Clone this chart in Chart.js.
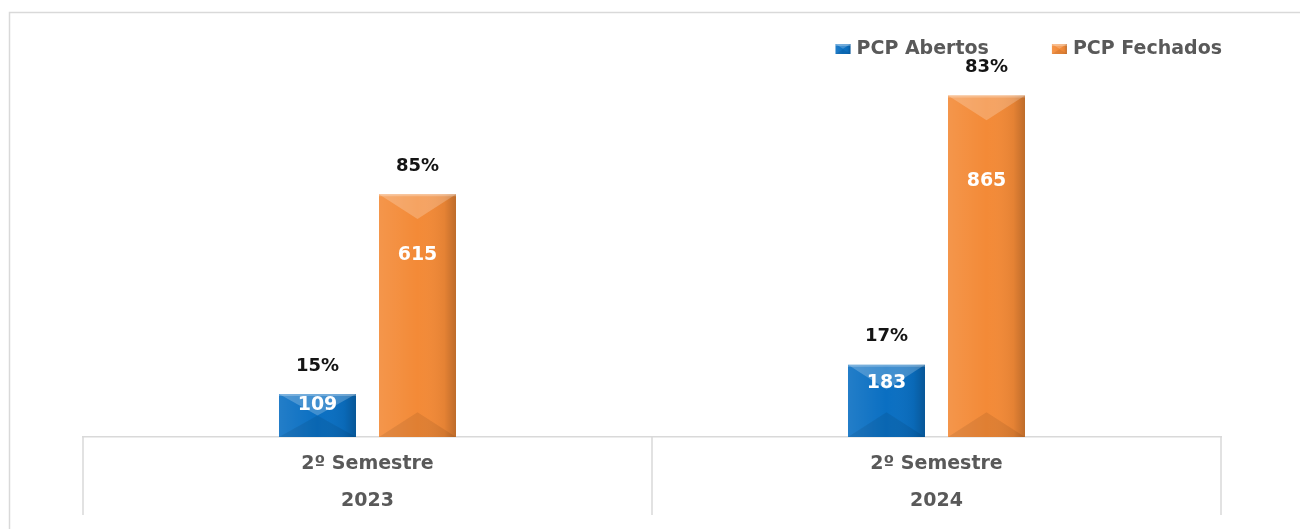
<!DOCTYPE html>
<html><head><meta charset="utf-8">
<script src="https://cdn.jsdelivr.net/npm/chart.js@4.4.0/dist/chart.umd.min.js"></script>
<style>html,body{margin:0;padding:0;background:#fff;overflow:hidden}#c{display:block}</style>
</head><body>
<canvas id="c" width="1300" height="529"></canvas>
<script>
// ---- data ----
const categories = [['2º Semestre', '2023'], ['2º Semestre', '2024']];
const seriesNames = ['PCP Abertos', 'PCP Fechados'];
const abertos = [109, 183];
const fechados = [615, 865];
const pctAbertos = ['15%', '17%'];
const pctFechados = ['85%', '83%'];

// ---- styles ----
const FONT = '"DejaVu Sans", sans-serif';
const colors = ['#0a6fc2', '#f38a37'];
const pctLabels = [pctAbertos, pctFechados];

function drawBevelBar(ctx, left, right, top, bottom) {
  const w = right - left, h = bottom - top, cx = (left + right) / 2;
  const g = ctx.createLinearGradient(left, 0, right, 0);
  g.addColorStop(0, 'rgba(255,255,255,0.10)');
  g.addColorStop(0.5, 'rgba(255,255,255,0)');
  g.addColorStop(0.85, 'rgba(0,0,0,0.06)');
  g.addColorStop(1, 'rgba(0,0,0,0.22)');
  ctx.fillStyle = g;
  ctx.fillRect(left, top, w, h);
  const d = Math.min(w * 0.32, h / 2);
  ctx.beginPath();
  ctx.moveTo(left, top); ctx.lineTo(right, top); ctx.lineTo(cx, top + d); ctx.closePath();
  ctx.fillStyle = 'rgba(255,255,255,0.22)';
  ctx.fill();
  ctx.fillStyle = 'rgba(255,255,255,0.25)';
  ctx.fillRect(left, top, w, Math.min(2, h));
  ctx.beginPath();
  ctx.moveTo(left, bottom); ctx.lineTo(right, bottom); ctx.lineTo(cx, bottom - d); ctx.closePath();
  ctx.fillStyle = 'rgba(0,0,0,0.08)';
  ctx.fill();
}

const framePlugin = {
  id: 'frame',
  beforeDraw(chart) {
    const ctx = chart.ctx;
    ctx.save();
    ctx.fillStyle = '#ffffff';
    ctx.fillRect(0, 0, chart.width, chart.height);
    ctx.strokeStyle = '#d9d9d9';
    ctx.lineWidth = 1.5;
    ctx.beginPath();
    ctx.moveTo(9.5, chart.height);
    ctx.lineTo(9.5, 12.5);
    ctx.lineTo(chart.width + 2, 12.5);
    ctx.stroke();
    ctx.restore();
  },
  afterDraw(chart) {
    const xs = chart.scales.x, ctx = chart.ctx;
    const n = chart.data.labels.length;
    const bounds = [xs.left];
    for (let i = 0; i < n - 1; i++) bounds.push((xs.getPixelForTick(i) + xs.getPixelForTick(i + 1)) / 2);
    bounds.push(xs.right);
    ctx.save();
    ctx.strokeStyle = '#d9d9d9';
    ctx.lineWidth = 1.5;
    bounds.forEach(b => {
      ctx.beginPath();
      ctx.moveTo(b, xs.top);
      ctx.lineTo(b, xs.top + 78);
      ctx.stroke();
    });
    ctx.restore();
  }
};

const barDecor = {
  id: 'barDecor',
  afterDatasetsDraw(chart) {
    const ctx = chart.ctx;
    ctx.save();
    chart.data.datasets.forEach((ds, di) => {
      const meta = chart.getDatasetMeta(di);
      meta.data.forEach((el, i) => {
        const left = el.x - el.width / 2, right = el.x + el.width / 2;
        const top = Math.min(el.y, el.base), bottom = Math.max(el.y, el.base);
        drawBevelBar(ctx, left, right, top, bottom);
        const h = bottom - top;
        ctx.font = 'bold 19px ' + FONT;
        ctx.fillStyle = '#ffffff';
        ctx.textAlign = 'center';
        ctx.textBaseline = 'middle';
        ctx.fillText(String(ds.data[i]), el.x, top + h * 0.25);
        ctx.font = 'bold 18px ' + FONT;
        ctx.fillStyle = '#141414';
        ctx.fillText(pctLabels[di][i], el.x, top - 28);
      });
    });
    ctx.restore();
  }
};

const legendPlugin = {
  id: 'customLegend',
  afterDraw(chart) {
    const ctx = chart.ctx;
    ctx.save();
    ctx.font = 'bold 19px ' + FONT;
    ctx.textBaseline = 'middle';
    ctx.textAlign = 'left';
    const yc = 49, boxW = 15, boxH = 10, gapBox = 6, gapItem = 63;
    let xEnd = chart.chartArea.right + 1;
    for (let i = seriesNames.length - 1; i >= 0; i--) {
      const tw = ctx.measureText(seriesNames[i]).width;
      const tx = xEnd - tw;
      const bx = tx - gapBox - boxW;
      ctx.fillStyle = colors[i];
      ctx.fillRect(bx, yc - boxH / 2, boxW, boxH);
      drawBevelBar(ctx, bx, bx + boxW, yc - boxH / 2, yc + boxH / 2);
      ctx.fillStyle = '#595959';
      ctx.fillText(seriesNames[i], tx, yc);
      xEnd = bx - gapItem;
    }
    ctx.restore();
  }
};

new Chart(document.getElementById('c'), {
  type: 'bar',
  data: {
    labels: categories,
    datasets: [
      { label: seriesNames[0], data: abertos, backgroundColor: colors[0] },
      { label: seriesNames[1], data: fechados, backgroundColor: colors[1] }
    ]
  },
  options: {
    responsive: false,
    animation: false,
    layout: { padding: { left: 83, right: 79, top: 62, bottom: 0 } },
    datasets: { bar: { categoryPercentage: 0.3515, barPercentage: 0.77, borderWidth: 0 } },
    plugins: { legend: { display: false }, tooltip: { enabled: false } },
    scales: {
      x: {
        grid: { display: false, drawTicks: false },
        border: { display: true, color: '#d9d9d9', width: 1.5 },
        ticks: {
          font: { family: FONT, size: 19, weight: 'bold', lineHeight: '37px' },
          color: '#595959', padding: 9, maxRotation: 0, autoSkip: false
        }
      },
      y: { display: false, min: 0, max: 950 }
    }
  },
  plugins: [framePlugin, barDecor, legendPlugin]
});
</script>
</body></html>
